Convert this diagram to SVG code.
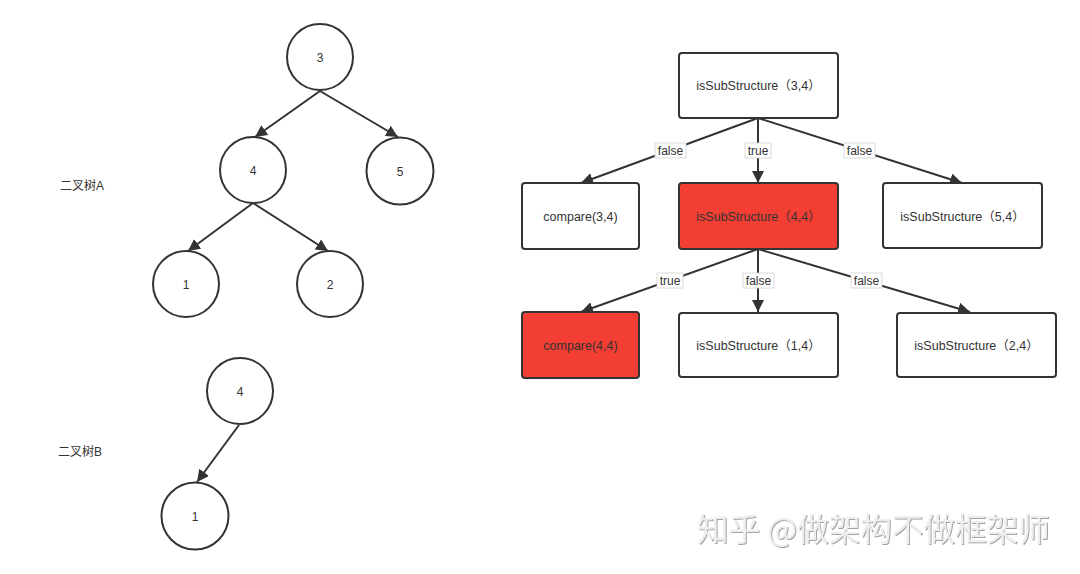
<svg xmlns="http://www.w3.org/2000/svg" width="1080" height="574" viewBox="0 0 1080 574">
<style>
text{font-family:"Liberation Sans","Noto Sans CJK SC",sans-serif;fill:#333}
.c{fill:#fff;stroke:#333;stroke-width:2}
.b{fill:#fff;stroke:#333;stroke-width:2}
.r{fill:#f33e33;stroke:#333;stroke-width:2}
.n{font-size:12px;text-anchor:middle}
.t{font-size:12.5px;text-anchor:middle}
.e{stroke:#333;stroke-width:2;fill:none;marker-end:url(#ah)}
.lb{fill:#fff;stroke:#d0d0d0;stroke-width:0.8}
.l{font-size:12px;text-anchor:middle}
.wm{font-family:"Noto Sans CJK SC",sans-serif;font-size:31.6px;fill:#eeeeee}
</style>
<defs>
<marker id="ah" markerUnits="userSpaceOnUse" markerWidth="14" markerHeight="12" refX="12" refY="6" orient="auto">
<path d="M0,0 L12,6 L0,12 z" fill="#333"/>
</marker>
<filter id="sh" x="-5%" y="-20%" width="110%" height="140%">
<feDropShadow dx="1" dy="1" stdDeviation="0.6" flood-color="#9a9a9a" flood-opacity="0.9"/>
</filter>
</defs>
<g id="connectors">
<line class="e" x1="320" y1="91" x2="255" y2="137"/>
<line class="e" x1="320" y1="91" x2="398" y2="137"/>
<line class="e" x1="253" y1="203" x2="188" y2="251"/>
<line class="e" x1="253" y1="203" x2="328" y2="251"/>
<line class="e" x1="239" y1="425" x2="197" y2="482"/>
<line class="e" x1="758" y1="118" x2="581" y2="183"/>
<line class="e" x1="758" y1="118" x2="758" y2="183"/>
<line class="e" x1="758" y1="118" x2="962" y2="183"/>
<line class="e" x1="758" y1="249" x2="581" y2="312"/>
<line class="e" x1="758" y1="249" x2="758" y2="312"/>
<line class="e" x1="758" y1="249" x2="970" y2="312"/>
<g id="edge-labels">
<rect class="lb" x="655" y="143" width="31" height="15"/><text class="l" x="670.5" y="155">false</text>
<rect class="lb" x="745" y="143" width="26" height="15"/><text class="l" x="758" y="155">true</text>
<rect class="lb" x="844" y="143" width="31" height="15"/><text class="l" x="859.5" y="155">false</text>
<rect class="lb" x="657" y="273" width="26" height="15"/><text class="l" x="670" y="285">true</text>
<rect class="lb" x="743" y="273" width="31" height="15"/><text class="l" x="758.5" y="285">false</text>
<rect class="lb" x="851" y="273" width="31" height="15"/><text class="l" x="866.5" y="285">false</text>
</g>
</g>
<g id="nA3"><circle class="c" cx="320" cy="57" r="33"/><text class="n" x="320" y="62">3</text></g>
<g id="nA4"><circle class="c" cx="253" cy="170" r="33"/><text class="n" x="253" y="175">4</text></g>
<g id="nA5"><circle class="c" cx="400" cy="171" r="33.5"/><text class="n" x="400" y="176">5</text></g>
<g id="nA1"><circle class="c" cx="186" cy="284" r="33"/><text class="n" x="186" y="289">1</text></g>
<g id="nA2"><circle class="c" cx="330" cy="284" r="33"/><text class="n" x="330" y="289">2</text></g>
<g id="nB4"><circle class="c" cx="240" cy="391" r="33"/><text class="n" x="240" y="396">4</text></g>
<g id="nB1"><circle class="c" cx="195" cy="516" r="33.5"/><text class="n" x="195" y="521">1</text></g>
<g id="labelA"><text x="60" y="190" font-size="12">二叉树A</text></g>
<g id="labelB"><text x="58" y="456" font-size="12">二叉树B</text></g>
<g id="s34"><rect class="b" x="679" y="53" width="159" height="65" rx="3"/><text class="t" x="758.5" y="90">isSubStructure（3,4）</text></g>
<g id="c34"><rect class="b" x="522" y="183" width="117" height="66" rx="3"/><text class="t" x="580.5" y="221">compare(3,4)</text></g>
<g id="s44"><rect class="r" x="679" y="183" width="159" height="66" rx="3"/><text class="t" x="758.5" y="221">isSubStructure（4,4）</text></g>
<g id="s54"><rect class="b" x="883" y="183" width="159" height="65" rx="3"/><text class="t" x="962.5" y="221">isSubStructure（5,4）</text></g>
<g id="c44"><rect class="r" x="522" y="312" width="117" height="66" rx="3"/><text class="t" x="580.5" y="350">compare(4,4)</text></g>
<g id="s14"><rect class="b" x="679" y="313" width="159" height="64" rx="3"/><text class="t" x="758.5" y="350">isSubStructure（1,4）</text></g>
<g id="s24"><rect class="b" x="897" y="313" width="159" height="64" rx="3"/><text class="t" x="976.5" y="350">isSubStructure（2,4）</text></g>
<g id="watermark"><text class="wm" x="697" y="541" filter="url(#sh)">知乎 @做架构不做框架师</text></g>
</svg>
